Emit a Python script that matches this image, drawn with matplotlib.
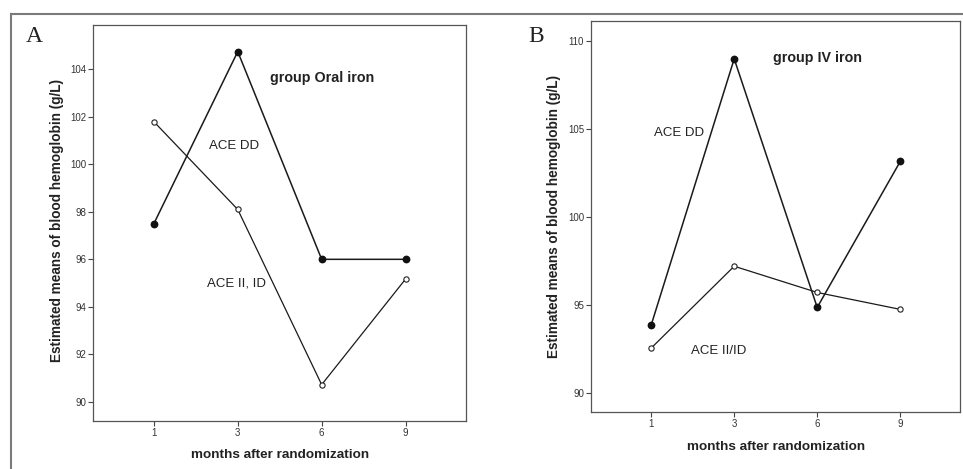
import matplotlib
matplotlib.use("Agg")
import matplotlib.pyplot as plt
from matplotlib.lines import Line2D

plt.rcParams['font.family'] = ['Liberation Sans', 'DejaVu Sans']

months = ["1", "3", "6", "9"]

oral_dd = [97.5, 104.75, 96.0, 96.0]
oral_ii_id = [101.8, 98.1, 90.72, 95.17]

iv_dd = [93.88, 109.0, 94.88, 103.17]
iv_ii_id = [92.57, 97.22, 95.73, 94.77]

oral_yticks = [90, 92, 94, 96, 98, 100, 102, 104]
iv_yticks = [90, 95, 100, 105, 110]

W, H = 963, 469
fig = plt.figure(figsize=(W / 100, H / 100), dpi=100)
fig.patch.set_facecolor("white")

def px_axes(left, top, right, bottom):
    return fig.add_axes([left / W, 1 - bottom / H, (right - left) / W, (bottom - top) / H])

# outer frame lines
fig.add_artist(Line2D([11 / W, 1.0], [1 - 14 / H, 1 - 14 / H], color="#7a7a7a", lw=1.5))
fig.add_artist(Line2D([11 / W, 11 / W], [0, 1 - 14 / H], color="#7a7a7a", lw=1.5))

def draw(ax, dd, ii, yticks, ylim, title, title_xy, dd_xy, ii_xy, ii_label):
    x = list(range(len(months)))
    ax.plot(x, dd, color="#1a1a1a", lw=1.1, marker="o", ms=4.6,
            mfc="#111111", mec="#111111", zorder=3)
    ax.plot(x, ii, color="#1a1a1a", lw=0.9, marker="o", ms=3.8,
            mfc="white", mec="#222222", mew=0.8, zorder=3)
    ax.set_xlim(-0.725, 3.72)
    ax.set_ylim(*ylim)
    ax.set_xticks(x)
    ax.set_xticklabels(months)
    ax.set_yticks(yticks)
    ax.tick_params(direction="out", length=3.5, width=0.8, labelsize=7,
                   colors="#444444", labelcolor="#333333", pad=1.5)
    for s in ax.spines.values():
        s.set_color("#555555")
        s.set_linewidth(0.9)
    ax.text(*title_xy, title, ha="center", va="center", fontsize=10.3,
            fontweight="bold", color="#222222")
    ax.text(*dd_xy, "ACE DD", ha="center", va="center", fontsize=9.5, color="#222222")
    ax.text(*ii_xy, ii_label, ha="center", va="center", fontsize=9.5, color="#222222")

axA = px_axes(93, 25, 466, 421)
draw(axA, oral_dd, oral_ii_id, oral_yticks, (89.19, 105.87), "group Oral iron",
     (2.0, 103.63), (0.96, 100.77), (0.98, 95.0), "ACE II, ID")

axB = px_axes(591, 21, 960, 412)
draw(axB, iv_dd, iv_ii_id, iv_yticks, (88.94, 111.15), "group IV iron",
     (2.0, 109.03), (0.33, 104.78), (0.81, 92.4), "ACE II/ID")

ylabel = "Estimated means of blood hemoglobin (g/L)"
xlabel = "months after randomization"
fig.text(57 / W, 1 - 220 / H, ylabel, rotation=90, ha="center", va="center",
         fontsize=9.8, fontweight="bold", color="#222222")
fig.text(554 / W, 1 - 216.5 / H, ylabel, rotation=90, ha="center", va="center",
         fontsize=9.8, fontweight="bold", color="#222222")
fig.text(280 / W, 1 - 455 / H, xlabel, ha="center", va="center",
         fontsize=9.7, fontweight="bold", color="#222222")
fig.text(776 / W, 1 - 447 / H, xlabel, ha="center", va="center",
         fontsize=9.7, fontweight="bold", color="#222222")

fig.text(34.5 / W, 1 - 36 / H, "A", ha="center", va="center", fontsize=17,
         family=["Liberation Serif", "DejaVu Serif"], color="#222222")
fig.text(536.5 / W, 1 - 36 / H, "B", ha="center", va="center", fontsize=17,
         family=["Liberation Serif", "DejaVu Serif"], color="#222222")

fig.savefig("out.png", dpi=100, facecolor="white")
